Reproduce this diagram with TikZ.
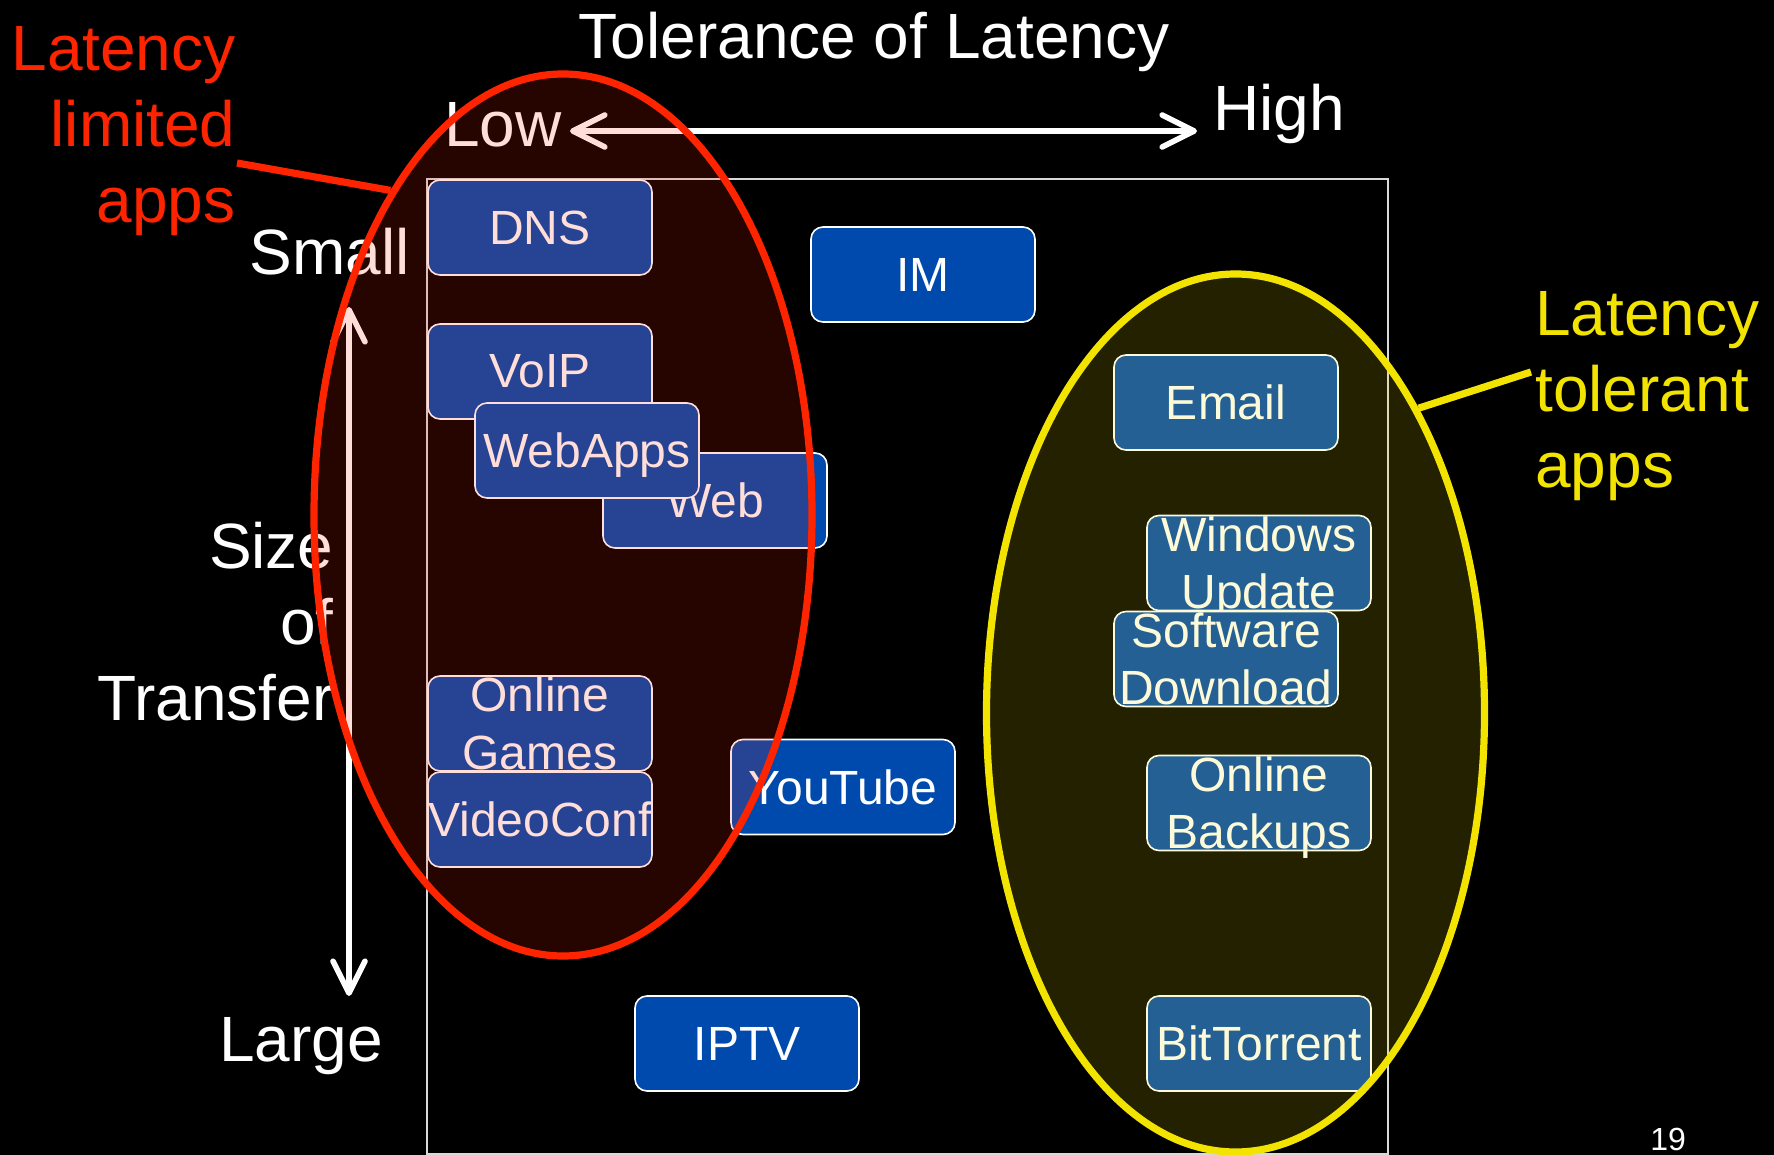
\documentclass[tikz,border=0pt]{standalone}
\usepackage{fontspec}
\setmainfont{Liberation Sans}
\usetikzlibrary{arrows.meta,shapes.geometric}

\definecolor{appblue}{RGB}{0,74,173}
\definecolor{latred}{RGB}{255,36,0}
\definecolor{latyellow}{RGB}{242,228,0}

\tikzset{
  appbox/.style={draw=white, line width=0.8pt, fill=appblue, rounded corners=6pt,
    minimum width=112pt, minimum height=47.5pt, inner sep=0pt},
  apptext/.style={text=white, font=\fontsize{24}{28.8}\selectfont, align=center, inner sep=0pt},
  bigtext/.style={font=\fontsize{32}{38}\selectfont, inner sep=0pt},
  axisarrow/.style={white, line width=2.8pt, line cap=round,
    {Straight Barb[round,length=16pt,width=16pt]}-{Straight Barb[round,length=16pt,width=16pt]}},
  appellipse/.style={ellipse, draw=#1, fill=#1, line width=3.6pt, fill opacity=0.15, inner sep=0pt},
  leader/.style={line width=3.6pt}
}

\begin{document}
\begin{tikzpicture}[x=0.5pt,y=-0.5pt]

% Background
\fill[black] (0,0) rectangle (1774,1155);
\useasboundingbox (0,0) rectangle (1774,1155);

% Chart frame
\draw[white!85!black, line width=0.7pt] (427,179) rectangle (1388,1154);

% Horizontal axis
\node[bigtext, white, anchor=base] (title) at (874,59) {Tolerance of Latency};
\node[bigtext, white, anchor=base west] (low) at (444,147) {Low};
\node[bigtext, white, anchor=base west] (high) at (1213,131) {High};
\coordinate (lowtip) at (570,131);
\coordinate (hightip) at (1197,131);
\draw[axisarrow] (lowtip) -- (hightip);

% Vertical axis
\node[bigtext, white, anchor=base east] (small) at (410,275) {Small};
\node[bigtext, white, anchor=base west] (large) at (219,1061) {Large};
\node[bigtext, white, anchor=east, align=right] (size) at (334,622) {Size\\of\\Transfer};
\coordinate (smalltip) at (349,307);
\coordinate (largetip) at (349,996);
\draw[axisarrow] (smalltip) -- (largetip);

% Applications
\node[appbox, label={[apptext,name=dnslbl]center:DNS}] (dns) at (540,227.5) {};
\node[appbox, label={[apptext,name=imlbl]center:IM}] (im) at (923,274.5) {};
\node[appbox, label={[apptext,name=voiplbl]center:VoIP}] (voip) at (540,371.5) {};
\node[appbox, label={[apptext,name=weblbl]center:Web}] (web) at (715,500.5) {};
\node[appbox, label={[apptext,text depth=0pt,name=webappslbl]center:WebApps}] (webapps) at (587,450.5) {};
\node[appbox, label={[apptext,name=emaillbl]center:Email}] (email) at (1226,402.5) {};
\node[appbox, label={[apptext,yshift=-2.3pt,name=winlbl]center:{Windows\\Update}}] (winupd) at (1259,563) {};
\node[appbox, label={[apptext,name=swlbl]center:{Software\\Download}}] (swdl) at (1226,659) {};
\node[appbox, label={[apptext,name=gameslbl]center:{Online\\Games}}] (games) at (540,723.5) {};
\node[appbox, label={[apptext,name=vconflbl]center:VideoConf}] (vconf) at (540,819.5) {};
\node[appbox, label={[apptext,name=ytlbl]center:YouTube}] (youtube) at (843,787) {};
\node[appbox, label={[apptext,yshift=-2.3pt,name=backlbl]center:{Online\\Backups}}] (backups) at (1259,803) {};
\node[appbox, label={[apptext,name=iptvlbl]center:IPTV}] (iptv) at (747,1043.5) {};
\node[appbox, label={[apptext,name=btlbl]center:BitTorrent}] (bittorrent) at (1259,1043.5) {};

% Groups
\node[appellipse=latred, minimum width=249pt, minimum height=441pt] (redell) at (563,515) {};
\node[appellipse=latyellow, minimum width=249pt, minimum height=439pt] (yelell) at (1235.5,713) {};

\node[bigtext, text=latred, anchor=east, align=right] (limited) at (236,131) {Latency\\limited\\apps};
\coordinate (redfoot) at (237,163);
\draw[latred, leader] (redfoot) -- (redell.118);

\node[bigtext, text=latyellow, anchor=west, align=left] (tolerant) at (1535,396) {Latency\\tolerant\\apps};
\coordinate (yelfoot) at (1531,372);
\draw[latyellow, leader] (yelell.59) -- (yelfoot);

% Slide number
\node[white, font=\fontsize{16}{19}\selectfont, anchor=base west, inner sep=0pt] (pagenum) at (1650,1150) {19};

\end{tikzpicture}
\end{document}
